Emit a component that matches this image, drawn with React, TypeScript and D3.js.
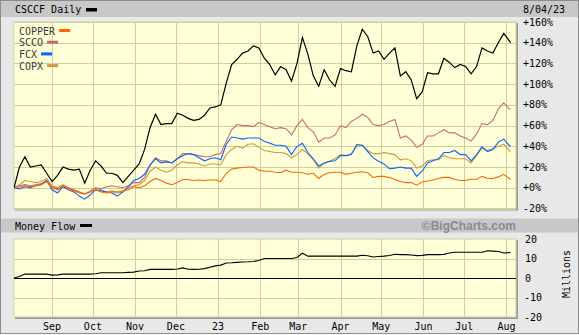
import React from 'react';
import * as d3 from 'd3';

// ---------- data ----------
const startDate = new Date(2022, 7, 4);
const endDate = new Date(2023, 7, 4);
// sampling dates: every 4 calendar days from Aug 4 2022, plus the last session
const dates: Date[] = d3
  .range(92)
  .map((i) => d3.timeDay.offset(startDate, 4 * i))
  .concat([endDate]);

const csccf = [
  0, 20, 30, 20, 21, 22, 14, 6, 12, 20, 18, 17, 18, 4.5, 17, 26, 21, 14, 14, 12, 5, 11, 17,
  23, 37, 58, 71, 61, 62, 62, 72, 70, 67, 65, 66, 70, 77, 78, 80, 101, 119, 124, 130, 132, 137, 135, 125, 119,
  109, 117, 114, 103, 120, 145, 129, 108, 98, 114, 104, 98, 115, 113, 112, 137, 153, 146, 130, 132, 124, 130,
  135, 108, 112, 104, 86, 92.5, 111, 110, 110, 125, 121, 116, 119, 117, 110, 117, 135, 132, 130, 140, 149, 142,
  140,
];
const copper = [
  0, 1, 2, 1, 2, 3, 6, 0, -2, 2, -1, -3, -5, -6, -4, -2, -4, -5, -4, -4, -3, -2, 1,
  0, 2, 6, 9, 7, 4.5, 3, 5, 8, 8, 7, 7.5, 7, 7.5, 7.5, 6, 14, 18, 19, 19.5, 20, 20, 17, 16, 16,
  15, 14.5, 17, 15, 15, 14.5, 13, 14, 9, 13, 14.5, 15, 15, 13, 14, 15, 15.5, 14.5, 10, 11, 11, 10,
  8, 6, 5, 5, 2.5, 5.5, 6.5, 7.5, 9, 10, 10, 8, 7, 7, 8.5, 8, 11, 9, 9, 10.5, 13, 9,
  8,
];
const scco = [
  0, 2, 3, 2, 3, 4, 7, 1, -1, 2, 0, -2, -4, -6, -4, 0, -1, 1, 2, 1, 0, 2, 5,
  5, 10, 22, 29, 26, 26, 24, 28, 33, 33, 32, 31, 30, 30, 32, 33, 45, 56, 61, 60, 60, 59, 63, 61, 59,
  57, 58, 57, 51, 60, 66, 58, 54, 44, 48, 48, 51, 60, 58, 64, 67, 71, 68, 61, 60, 61, 64,
  66, 48, 50, 46, 39, 42, 50, 50, 53, 56, 53, 53, 50, 48, 45, 52, 62, 61, 65, 76, 82, 76,
  76,
];
const fcx = [
  0, -1, 1, 0, 2, 3, 7, -2, -5, 1, -2, -4, -8, -11, -7, -2, -3, -4, -5, -8, -4, 1, 7,
  9, 13, 22, 28, 24, 25, 24, 28, 31, 33, 32, 29, 26, 28, 29, 27, 42, 49, 48, 47, 48, 48, 48, 45, 43,
  41, 41, 40, 32, 40, 43, 34, 28, 21, 24, 25.5, 26, 31, 31, 32, 41.7, 41, 35, 28.8, 25.6, 23, 18.5,
  19, 20, 19, 19, 11, 16, 24, 26, 28, 34, 34, 36, 32, 32, 26, 32, 39.5, 35, 37, 44, 47, 41,
  40,
];
const copx = [
  0, 3, 7, 6, 5, 6, 9, 2, 0, 3, 0, -2, -4, -6, -3, 0, -2, -4, -3, -5, -4, 0, 2,
  3, 7, 16, 20, 17, 15, 17, 22, 25, 24, 24, 23, 21, 23, 23, 22, 32, 37, 40, 38, 42, 42.5, 39, 36, 35,
  34, 34, 33, 29, 32, 37, 33, 27, 19, 24, 25.5, 28, 32, 31, 33, 40, 41, 36, 33, 33, 34, 33,
  32, 27, 28, 26, 19, 21, 26, 27, 27, 31, 29, 28, 28, 28, 24, 31, 38.5, 36, 38, 40, 42, 36,
  35,
];
const moneyFlow = [
  0, 0.8, 2, 2, 2, 2, 2, 1.5, 1.6, 2, 2, 2, 2, 2, 2, 2.2, 2.7, 2.7, 2.7, 2.7, 2.7, 2.9, 3.0,
  3.6, 3.7, 4.4, 4.4, 4.4, 4.4, 4.4, 4.6, 5.2, 4.5, 4.4, 4.5, 4.8, 5.5, 6.2, 6.6, 7.7, 7.8, 8.0, 8.2, 8.3, 8.5, 9, 10, 10,
  10, 10, 10, 10, 10.5, 12.7, 11.2, 11.2, 11.2, 11.2, 11.2, 11.2, 11.2, 11.2, 11.2, 11.2, 11.7, 11.4, 10.8, 11, 11.2, 11.5,
  12.2, 12, 12, 11.8, 11.5, 11.6, 12, 12, 12, 12.1, 12.8, 13.2, 13.2, 13.2, 13.2, 13.2, 13.2, 14, 13.8, 13.6, 12.8, 13,
  13.2,
];

const seriesNames = ['COPPER', 'SCCO', 'FCX', 'COPX'];
const seriesColors = ['#ff6600', '#cc6a6a', '#0a64ff', '#cc9a40'];
const pctTicks = [-20, 0, 20, 40, 60, 80, 100, 120, 140, 160];
const mfTicks = [-20, -10, 0, 10, 20];
const monthTicks = d3.timeMonth.range(new Date(2022, 8, 1), new Date(2023, 7, 2));
const title = 'CSCCF Daily';
const dateLabel = '8/04/23';

// ---------- layout ----------
const W = 579;
const H = 335;
const plotL = 14;
const plotR = 516;
const mainTop = 22;
const mainBot = 208.5;
const mfTop = 239;
const mfBot = 317;
const mono = '"DejaVu Sans Mono", monospace';
const gridColor = '#cfcf9c';

export default function App() {
  const x = d3.scaleTime().domain([startDate, new Date(2023, 7, 8)]).range([plotL, plotR]);
  const y = d3.scaleLinear().domain([-20, 160]).range([mainBot, mainTop]);
  const ym = d3.scaleLinear().domain([-20, 20]).range([mfBot, mfTop]);

  const mkLine = (vals: number[], sc: d3.ScaleLinear<number, number>) =>
    d3
      .line<number>()
      .x((_, i) => x(dates[i]))
      .y((v) => sc(v))(vals) || '';

  const colored = [copper, scco, fcx, copx];
  const drawOrder = [3, 1, 2, 0];
  const monthFmt = (d: Date) => (d.getMonth() === 0 ? d3.timeFormat('%y')(d) : d3.timeFormat('%b')(d));

  const plotPanel = (top: number, bot: number, yTicks: number[], sc: d3.ScaleLinear<number, number>) => (
    <g>
      <rect x={plotL + 1} y={top + 1} width={plotR - plotL + 1} height={bot - top + 1} fill="#9a9a9a" />
      <rect x={plotL} y={top} width={plotR - plotL} height={bot - top} fill="url(#dots)" stroke={gridColor} strokeWidth={1} />
      {yTicks.map((t) => (
        <line key={'h' + t} x1={plotL} x2={plotR} y1={Math.round(sc(t)) + 0.5} y2={Math.round(sc(t)) + 0.5} stroke={gridColor} strokeWidth={1} />
      ))}
      {monthTicks.map((d) => (
        <line key={'v' + d.getTime()} x1={Math.round(x(d)) + 0.5} x2={Math.round(x(d)) + 0.5} y1={top} y2={bot} stroke={gridColor} strokeWidth={1} />
      ))}
    </g>
  );

  return (
    <svg
      width={W}
      height={H}
      style={{ position: 'absolute', left: 0, top: 0, display: 'block' }}
      xmlns="http://www.w3.org/2000/svg"
    >
      <defs>
        <pattern id="dots" width={2} height={2} patternUnits="userSpaceOnUse">
          <rect width={2} height={2} fill="#ffffc6" />
          <rect width={1} height={1} fill="#ffffea" />
          <rect x={1} y={1} width={1} height={1} fill="#ffffea" />
        </pattern>
        <clipPath id="clipMain">
          <rect x={plotL} y={mainTop} width={plotR - plotL} height={mainBot - mainTop} />
        </clipPath>
        <clipPath id="clipMf">
          <rect x={plotL} y={mfTop} width={plotR - plotL} height={mfBot - mfTop} />
        </clipPath>
      </defs>

      {/* frame */}
      <rect x={0.5} y={0.5} width={W - 1} height={H - 2} fill="#e8e8e8" stroke="#8c8c8c" strokeWidth={1} />
      <rect x={1} y={1} width={W - 2} height={16} fill="#c8c8c8" />
      <rect x={1} y={218.5} width={W - 2} height={14} fill="#c8c8c8" />

      {/* header */}
      <text x={15} y={12.5} fontFamily={mono} fontSize={10} fill="#000">{title}</text>
      <rect x={86} y={8} width={11} height={3.5} fill="#000" />
      <text x={523} y={12.5} fontFamily={mono} fontSize={10} fill="#000">{dateLabel}</text>

      {/* main panel */}
      {plotPanel(mainTop, mainBot, pctTicks, y)}
      <g clipPath="url(#clipMain)">
        {drawOrder.map((k) => (
          <path key={seriesNames[k]} d={mkLine(colored[k], y)} fill="none" stroke={seriesColors[k]} strokeWidth={1.1} />
        ))}
        <path d={mkLine(csccf, y)} fill="none" stroke="#000" strokeWidth={1.2} />
      </g>

      {/* legend */}
      {seriesNames.map((n, i) => (
        <g key={n}>
          <text x={19} y={34.5 + i * 11.7} fontFamily={mono} fontSize={10} fill="#3a3a3a">{n}</text>
          <rect x={19 + n.length * 6.02 + 4} y={29 + i * 11.7} width={11} height={3} fill={seriesColors[i]} />
        </g>
      ))}

      {/* main y labels */}
      {pctTicks.map((t) => (
        <text key={'yl' + t} x={523} y={y(t) + 3.5} fontFamily={mono} fontSize={10} fill="#000">
          {t > 0 ? `+${t}%` : t === 0 ? '+0%' : `${t}%`}
        </text>
      ))}

      {/* money flow header */}
      <text x={15} y={229.5} fontFamily={mono} fontSize={10} fill="#000">Money Flow</text>
      <rect x={80} y={224} width={12} height={3} fill="#000" />
      <text x={516} y={230} textAnchor="end" fontFamily='"Liberation Sans", Arial, sans-serif' fontWeight="bold" fontSize={12} fill="#8a8a8a">
        ©BigCharts.com
      </text>

      {/* money flow panel */}
      {plotPanel(mfTop, mfBot, mfTicks.filter((t) => t !== 0 && Math.abs(t) !== 20), ym)}
      <line x1={plotL} x2={plotR} y1={Math.round(ym(0)) + 0.5} y2={Math.round(ym(0)) + 0.5} stroke="#000" strokeWidth={1} />
      <g clipPath="url(#clipMf)">
        <path d={mkLine(moneyFlow, ym)} fill="none" stroke="#000" strokeWidth={1.1} />
      </g>
      {mfTicks.map((t) => (
        <text key={'ml' + t} x={t < 0 ? 524 : 525} y={ym(t) + 3.5} fontFamily={mono} fontSize={10} fill="#000">
          {String(t)}
        </text>
      ))}
      <text
        transform={`translate(569.5, ${(mfTop + mfBot) / 2 - 4}) rotate(-90)`}
        textAnchor="middle"
        fontFamily={mono}
        fontSize={10}
        fill="#000"
      >
        Millions
      </text>

      {/* month labels */}
      {monthTicks.map((d) => (
        <text key={'m' + d.getTime()} x={x(d)} y={330} textAnchor="middle" fontFamily={mono} fontSize={10} fill="#000">
          {monthFmt(d)}
        </text>
      ))}
    </svg>
  );
}
